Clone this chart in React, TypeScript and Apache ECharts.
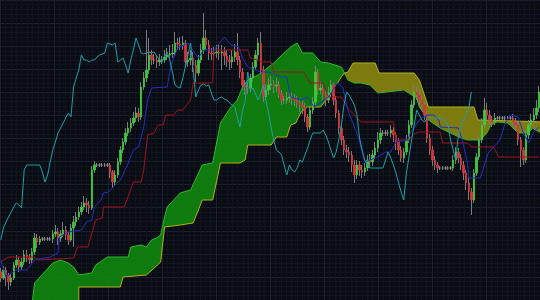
import React, { useEffect, useRef } from "react";
import * as echarts from "echarts";

// Candles: [open, close, low, high] — price units (no visible scale in the reference)
const candles: number[][] = [
  [28,22,18,32],[22,30,20,34],[30,25,14,33],[25,18,10,27],[18,22,14,26],[22,35,20,38],[35,40,32,45],[40,33,28,43],[33,38,30,42],[38,45,35,50],
  [45,42,38,50],[42,40,36,46],[40,48,37,52],[48,62,45,67],[62,58,52,66],[58,61,55,64],[61,61,59,63],[61,61,59,63],[61,61,59,63],[61,61,59,63],
  [61,66,57,70],[66,68,63,75],[68,62,55,72],[62,66,58,70],[66,70,63,78],[70,65,60,74],[65,60,55,68],[60,72,58,76],[72,78,53,84],[78,83,74,88],
  [83,88,80,93],[88,93,85,98],[93,97,90,104],[97,95,88,102],[95,92,86,99],[92,130,90,134],[130,135,127,139],[135,135,133,137],[135,135,133,137],[135,135,133,137],
  [135,135,133,137],[135,135,133,137],[135,128,122,137],[128,118,112,130],[118,125,115,130],[125,138,122,142],[138,150,135,154],[150,158,147,162],[158,167,155,172],[167,172,164,178],
  [172,177,168,182],[177,182,174,188],[182,187,178,193],[187,183,178,192],[183,213,180,218],[213,222,210,228],[222,230,218,270],[230,245,226,262],[245,240,235,250],[240,240,236,246],
  [240,238,232,245],[238,240,234,246],[240,240,236,244],[240,243,237,250],[243,245,240,252],[245,246,241,255],[246,247,242,256],[247,257,244,268],[257,256,250,262],[256,255,250,263],
  [255,257,250,264],[257,238,232,260],[238,240,233,248],[240,242,235,250],[242,235,228,248],[235,227,218,240],[227,240,224,245],[240,250,237,256],[250,262,246,287],[262,255,250,270],
  [255,247,240,260],[247,246,240,252],[246,247,240,253],[247,248,242,255],[248,247,240,256],[247,248,230,255],[248,244,235,253],[244,240,233,250],[240,238,230,245],[238,243,232,250],
  [243,248,238,256],[248,240,235,267],[240,228,222,244],[228,215,210,232],[215,213,205,220],[213,212,206,218],[212,222,208,226],[222,233,218,238],[233,245,230,250],[245,257,240,262],
  [257,230,226,268],[230,203,198,234],[203,210,200,216],[210,215,205,222],[215,216,210,224],[216,214,207,220],[214,215,208,222],[215,207,202,219],[207,200,195,210],[200,200,196,204],
  [200,202,196,208],[202,203,197,210],[203,201,195,207],[201,200,194,206],[200,197,192,204],[197,195,188,201],[195,193,186,200],[193,183,178,197],[183,173,168,186],[173,190,170,194],
  [190,198,186,203],[198,228,195,234],[228,210,205,231],[210,212,206,218],[212,206,200,216],[206,200,194,210],[200,207,197,213],[207,215,203,220],[215,200,195,218],[200,187,182,204],
  [187,172,166,190],[172,160,155,176],[160,150,145,164],[150,148,142,155],[148,145,138,153],[145,135,128,149],[135,125,117,140],[125,135,121,140],[135,130,124,139],[130,128,122,135],
  [128,132,124,137],[132,140,129,145],[140,138,133,146],[138,145,134,150],[145,152,141,158],[152,160,148,168],[160,167,156,172],[167,167,164,170],[167,167,164,170],[167,167,164,170],
  [167,170,163,175],[170,165,158,173],[165,158,150,168],[158,150,145,162],[150,142,138,154],[142,148,137,152],[148,160,145,165],[160,175,157,180],[175,195,172,200],[195,208,192,215],
  [208,205,200,214],[205,200,195,210],[200,195,190,205],[195,185,180,198],[185,162,157,188],[162,150,145,166],[150,140,134,154],[140,135,130,144],[135,132,127,138],[132,132,130,134],
  [132,132,130,134],[132,132,130,134],[132,132,130,134],[132,132,130,134],[132,140,129,145],[140,148,136,153],[148,142,137,152],[142,135,130,146],[135,127,120,139],[127,117,110,130],
  [117,108,100,122],[108,100,85,112],[100,127,97,131],[127,143,124,147],[143,160,140,165],[160,175,157,182],[175,190,172,202],[190,185,180,197],[185,180,176,190],[180,178,173,184],
  [178,182,175,187],[182,182,180,184],[182,182,180,184],[182,182,180,184],[182,182,180,184],[182,182,180,184],[182,182,180,184],[182,178,174,186],[178,175,170,182],[175,160,155,178],
  [160,150,133,163],[150,140,135,153],[140,165,137,170],[165,175,161,180],[175,180,171,186],[180,185,176,192],[185,192,181,200],[192,208,188,214],
];

// Indicator lines as [period index, price]
const tenkan: number[][] = [[0,40],[2,23],[6,30],[10,30],[13,40],[19,43],[22,47],[22.5,63],[26,68],[31,70],[33,78],[35,80],[36,93],[38.5,100],[39.5,107],[41.5,108],[45,118],[46,120],[47.5,128],[49,137],[51,150],[53,153],[55,173],[56.5,200],[58,212],[64,213],[65.5,235],[68,252],[72,257],[76,242],[78,250],[82,250],[86,263],[88.5,255],[91.5,253],[93,242],[95,233],[100,228],[103,228],[108,223],[110,223],[111.5,203],[115.5,200],[118,203],[120.5,193],[126,203],[129.5,217],[131.5,213],[133.5,190],[137.5,163],[140,138],[145,143],[148,148],[150,148],[152,158],[156.5,160],[157.5,167],[161,180],[164,185],[166.5,185],[168.5,180],[169,173],[176,172],[177.5,160],[179.5,137],[180,122],[184.5,122],[186,135],[187.5,147],[192,160],[194,177],[196,185],[199,183],[201,167],[203,157],[205,168],[207,173]];

const kijun: number[][] = [[0,38],[3,43],[13,43],[14.5,40],[28,42],[29.5,53],[33.5,53],[36.5,80],[39,82],[39.5,93],[47.5,93],[51,118],[54,118],[55,130],[56.5,165],[59,167],[60.5,175],[62.5,175],[63.5,185],[66.5,185],[68,190],[70,190],[73,200],[74,217],[81.5,217],[82,250],[95,250],[96,242],[101,238],[104,238],[105,228],[116.5,228],[119,217],[124,217],[126,203],[131,203],[133.5,192],[136,185],[138.5,178],[151,178],[152,160],[157,160],[158.5,165],[160.5,168],[169,168],[170,157],[179.5,157],[181,153],[189.5,153],[191.5,143],[207,143]];

const spanA: number[][] = [[12,-5],[13,17],[16.5,27],[20,37],[23,40],[26,37],[28,33],[30,25],[35,27],[36.5,35],[41,43],[49,43],[50,53],[54,55],[56,53],[58,60],[60,62],[61.5,65],[63,83],[64,93],[66.5,100],[69,107],[73,110],[77.5,135],[81.5,137],[84.5,177],[88.5,193],[91,200],[93,213],[95,220],[99,225],[105,237],[109,247],[111.5,253],[114,257],[116,247],[120,247],[123,238],[126,237],[131,233],[132.2,227],[133.5,220],[136,217],[138.5,217],[142,215],[145,207],[155,210],[160,202],[161,193],[164.5,180],[169,172],[173,167],[177,162],[179.5,160],[184.5,160],[187,167],[188.5,175],[191,178],[195,177],[197,172],[199,167],[203,167],[204.5,172],[209,165]];

const spanB: number[][] = [[12,-40],[30,-40],[30,13],[46,13],[47,23],[56,25],[59,32],[61.5,38],[63,73],[69,75],[74,77],[76,90],[77.5,100],[81.5,100],[84.5,137],[92,137],[94,140],[95,155],[104,155],[106,163],[110,163],[111.5,175],[113.5,177],[115.5,188],[118,193],[123,193],[126,203],[127.5,210],[129.5,217],[131,223],[132.2,227],[133.5,228],[135.5,237],[144,237],[145.5,227],[159,227],[161,220],[164.5,193],[182,193],[183.5,180],[185.5,180],[209,178]];

const CHIKOU_SHIFT = 26;
const CLOUD_CROSS = 132.2;

const BG = "#0a0c13";
const MAJOR = "#1b202e";
const MINOR = "#11141d";
const WICK = "#7c7c7c";
const DOJI = "#a0a0a0";
const BULL = "#3ccc3c";
const BEAR = "#d6363b";

export default function App() {
  const ref = useRef<HTMLDivElement>(null);
  useEffect(() => {
    document.body.style.margin = "0";
    const chart = echarts.init(ref.current!, undefined, { renderer: "svg" });

    const wickData = candles.map((d, i) => [i, d[0], d[1], d[2], d[3]]);
    const bodyData = candles.map((d, i) => {
      const o = d[0], c = d[1];
      const item: any = { value: [i, o, c, Math.min(o, c), Math.max(o, c)] };
      if (o === c) {
        item.itemStyle = { color: DOJI, color0: DOJI, borderColor: DOJI, borderColor0: DOJI };
      }
      return item;
    });
    const chikou = candles.slice(CHIKOU_SHIFT).map((d, j) => [j, d[1]]);

    const greenPts = [
      ...spanA.filter((p) => p[0] <= CLOUD_CROSS),
      ...spanB.filter((p) => p[0] <= CLOUD_CROSS).reverse(),
    ];
    const yellowPts = [
      ...spanB.filter((p) => p[0] >= CLOUD_CROSS),
      ...spanA.filter((p) => p[0] >= CLOUD_CROSS).reverse(),
    ];

    const line = (data: number[][], color: string, z = 5) => ({
      type: "line",
      data,
      symbol: "none",
      showSymbol: false,
      xAxisIndex: 0,
      yAxisIndex: 0,
      lineStyle: { color, width: 1 },
      z,
      silent: true,
    });

    const candleDims = ["x", "open", "close", "lowest", "highest"];

    chart.setOption({
      animation: false,
      backgroundColor: BG,
      grid: [
        { left: 0, right: 0, top: 0, bottom: 0 },
        { left: -6.6, top: -8, width: 574, height: 331.5 },
      ],
      xAxis: [
        { gridIndex: 0, type: "value", min: -0.3, max: 207.4, show: false },
        {
          gridIndex: 1, type: "value", min: 0, max: 10, interval: 1,
          axisLine: { show: false }, axisTick: { show: false }, axisLabel: { show: false },
          splitLine: { show: true, lineStyle: { color: MAJOR, width: 1 } },
          minorTick: { show: false, splitNumber: 10 },
          minorSplitLine: { show: true, lineStyle: { color: MINOR, width: 1 } },
        },
      ],
      yAxis: [
        { gridIndex: 0, type: "value", min: 0, max: 300, show: false },
        {
          gridIndex: 1, type: "value", min: 0, max: 13, interval: 1,
          axisLine: { show: false }, axisTick: { show: false }, axisLabel: { show: false },
          splitLine: { show: true, lineStyle: { color: MAJOR, width: 1 } },
          minorTick: { show: false, splitNumber: 5 },
          minorSplitLine: { show: true, lineStyle: { color: MINOR, width: 1 } },
        },
      ],
      series: [
        {
          type: "custom",
          xAxisIndex: 0,
          yAxisIndex: 0,
          data: [[0, 0]],
          encode: { x: 0, y: 1 },
          silent: true,
          z: 1,
          renderItem: (_params: any, api: any) => ({
            type: "group",
            children: [
              {
                type: "polygon",
                shape: { points: greenPts.map((p) => api.coord(p)) },
                style: { fill: "rgba(16,132,14,0.92)" },
              },
              {
                type: "polygon",
                shape: { points: yellowPts.map((p) => api.coord(p)) },
                style: { fill: "rgba(136,132,16,0.92)" },
              },
            ],
          }),
        },
        line(spanA, "#2fb82f", 2),
        line(spanB, "#b3ae1e", 2),
        {
          type: "candlestick",
          xAxisIndex: 0,
          yAxisIndex: 0,
          dimensions: candleDims,
          encode: { x: "x", y: ["open", "close", "lowest", "highest"] },
          data: wickData,
          barWidth: 0.4,
          itemStyle: { color: WICK, color0: WICK, borderColor: WICK, borderColor0: WICK, borderWidth: 1 },
          z: 3,
          silent: true,
        },
        {
          type: "candlestick",
          xAxisIndex: 0,
          yAxisIndex: 0,
          dimensions: candleDims,
          encode: { x: "x", y: ["open", "close", "lowest", "highest"] },
          data: bodyData,
          barWidth: 1.8,
          itemStyle: { color: BULL, color0: BEAR, borderColor: BULL, borderColor0: BEAR, borderWidth: 0.8 },
          z: 4,
          silent: true,
        },
        line(kijun, "#a0121e"),
        line(tenkan, "#2230c0"),
        line(chikou, "#1fa0a6"),
      ],
    });
    return () => chart.dispose();
  }, []);
  return (
    <div
      ref={ref}
      style={{ position: "fixed", left: 0, top: 0, width: 540, height: 300 }}
    />
  );
}
